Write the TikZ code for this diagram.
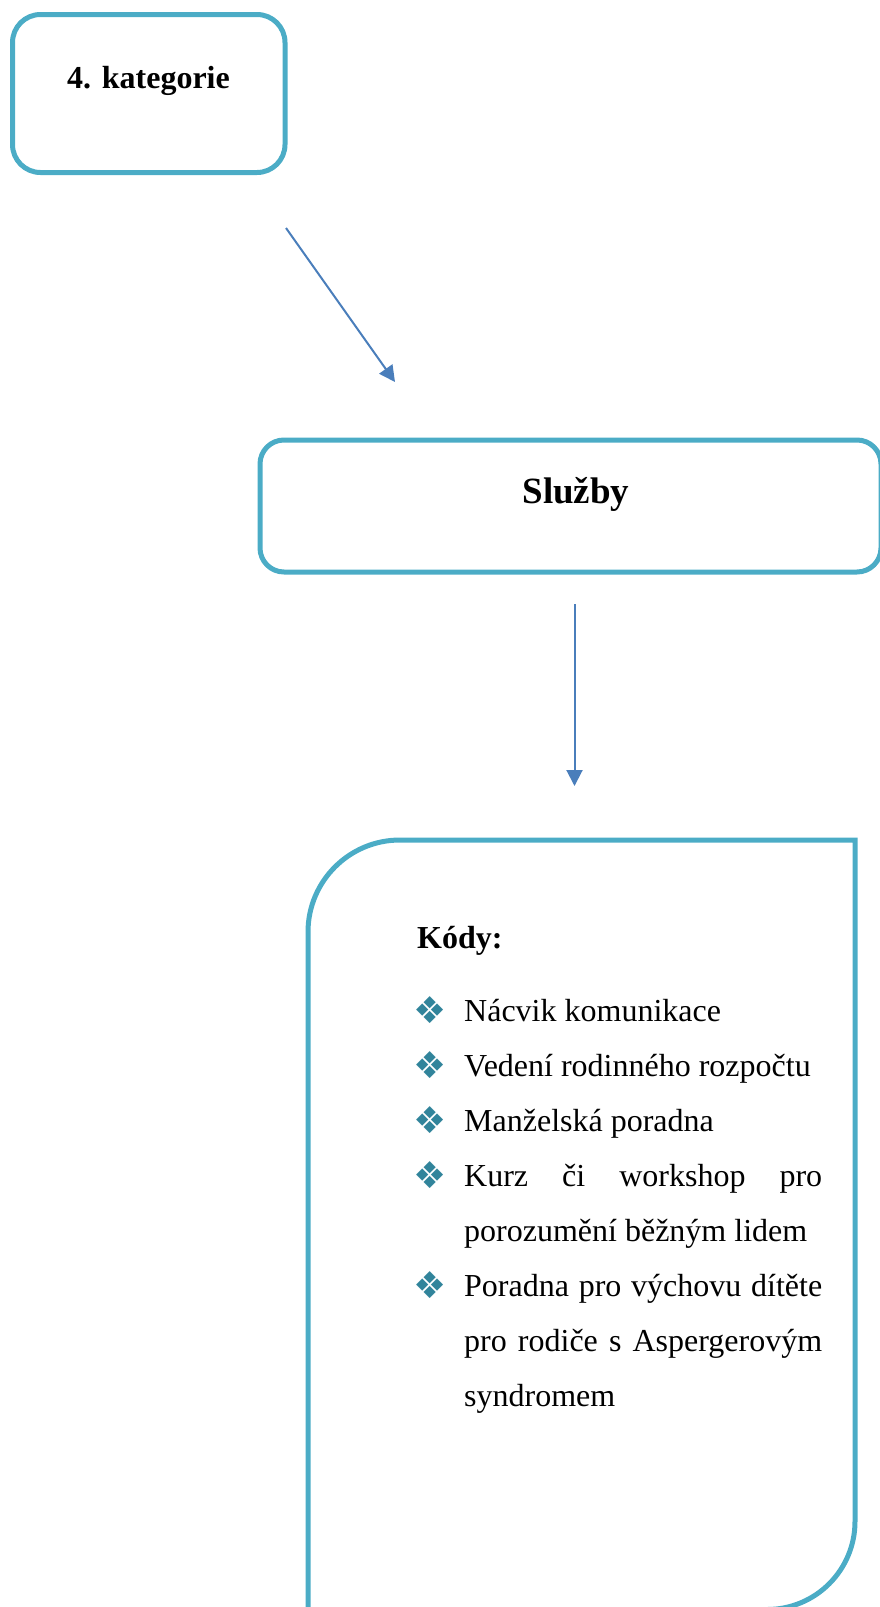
\documentclass[tikz,border=0pt]{standalone}
\usepackage{fontspec}
\setmainfont{Liberation Serif}
\newfontfamily\dingfont{DejaVu Sans}
\usetikzlibrary{arrows.meta}
\definecolor{boxline}{HTML}{4BACC6}
\definecolor{arrowblue}{HTML}{4A7EBB}
\definecolor{bulletteal}{HTML}{31849B}

\begin{document}
\begin{tikzpicture}[x=1pt,y=-1pt,
  frame/.style={draw=boxline,line width=5pt},
  framebox/.style={frame,shape=rectangle,inner sep=0pt,outer sep=0pt},
  link/.style={draw=arrowblue,line width=2pt,-{Triangle[width=16pt,length=16pt]}},
  heading/.style={inner sep=0pt,font=\fontsize{32}{38}\selectfont\bfseries},
  bigheading/.style={inner sep=0pt,font=\fontsize{37}{44}\selectfont\bfseries},
  item/.style={anchor=base west,inner sep=0pt,font=\fontsize{32}{38}\selectfont},
  bul/.style={anchor=center,inner sep=0pt,text=bulletteal,font=\fontsize{37}{40}\dingfont}]
\useasboundingbox (0,0) rectangle (880,1607);

% category box
\node[framebox,rounded corners=28pt,minimum width=272.5pt,minimum height=158pt] (catbox) at (148.75,93.5) {};
\node[heading,anchor=base] (cattext) at (148.5,88) {4. kategorie};

% services box (runs past the right edge)
\node[framebox,rounded corners=24pt,minimum width=621pt,minimum height=132pt] (servbox) at (570.5,506) {};
\node[bigheading,anchor=base] (servtext) at (576,503) {Služby};

% codes panel: rounded top-left and bottom-right corners
\draw[frame,line join=miter]
  (308,1615) -- (308,932)
  .. controls (308,881.2) and (349.2,840) .. (400,840)
  -- (855,840) -- (855,1521.5)
  .. controls (855,1570.1) and (815.6,1609.5) .. (767,1609.5)
  -- (300,1609.5);

% connectors
\coordinate (a1s) at (286,228);
\coordinate (a1e) at (395,382);
\coordinate (a2s) at (574.5,604);
\coordinate (a2e) at (574.5,786);
\draw[link] (a1s) -- (a1e);
\draw[link] (a2s) -- (a2e);

% codes list
\node[heading,anchor=base west] (codes) at (417,948) {Kódy:};

\node[bul] (b1) at (430.5,1010.5) {❖};
\node[item] (i1) at (464,1021) {Nácvik komunikace};
\node[bul] (b2) at (430.5,1065.5) {❖};
\node[item] (i2) at (464,1076) {Vedení rodinného rozpočtu};
\node[bul] (b3) at (430.5,1120.5) {❖};
\node[item] (i3) at (464,1131) {Manželská poradna};
\node[bul] (b4) at (430.5,1175.5) {❖};
\node[item] (i4a) at (464,1186) {\makebox[358pt][s]{Kurz či workshop pro}};
\node[item] (i4b) at (464,1241) {porozumění běžným lidem};
\node[bul] (b5) at (430.5,1285.5) {❖};
\node[item] (i5a) at (464,1296) {\makebox[358pt][s]{Poradna pro výchovu dítěte}};
\node[item] (i5b) at (464,1351) {\makebox[358pt][s]{pro rodiče s Aspergerovým}};
\node[item] (i5c) at (464,1406) {syndromem};
\end{tikzpicture}
\end{document}
